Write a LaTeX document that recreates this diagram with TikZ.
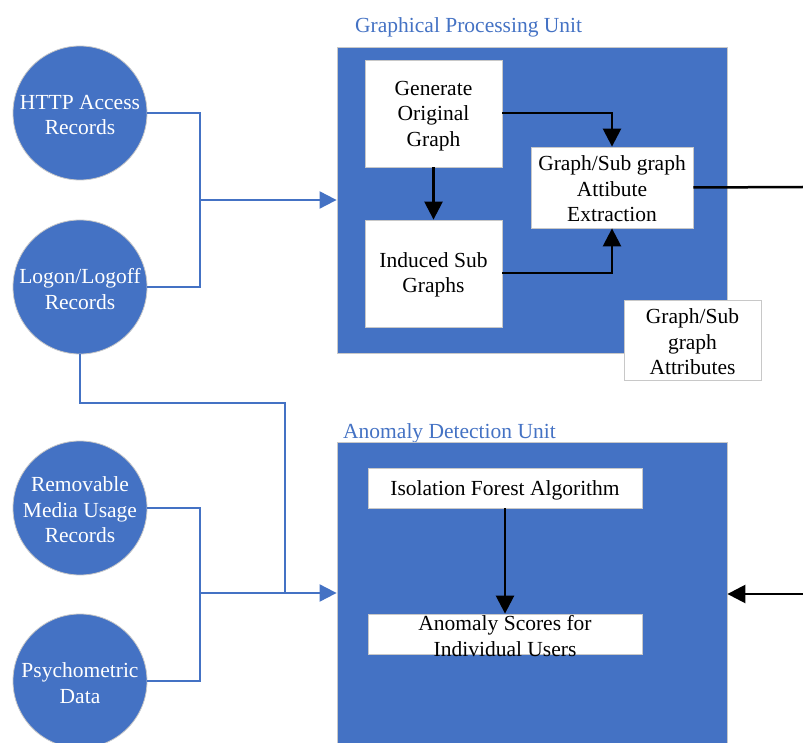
\documentclass[tikz,border=0pt]{standalone}
\usepackage{fontspec}
\setmainfont{Liberation Serif}
\usetikzlibrary{arrows.meta}
\definecolor{unitblue}{HTML}{4472C4}
\definecolor{edgegray}{HTML}{C8C8C8}
\tikzset{
  txt/.style={font=\fontsize{21.5}{25.5}\selectfont, align=center},
  source/.style={circle, fill=unitblue, draw=edgegray, line width=0.8pt,
    minimum size=134pt, inner sep=0pt},
  sourcetext/.style={txt, text=white, inner sep=0pt},
  unit/.style={rectangle, fill=unitblue, draw=edgegray, line width=0.8pt, inner sep=0pt},
  stepbox/.style={rectangle, fill=white, draw=edgegray, line width=0.8pt, inner sep=0pt},
  steptext/.style={txt, inner sep=0pt},
  unittitle/.style={font=\fontsize{21.5}{25.5}\selectfont, text=unitblue, anchor=base west, inner sep=0pt},
  feed/.style={draw=unitblue, line width=2pt},
  feedarrow/.style={feed, -{Triangle[length=17pt,width=17pt]}},
  flow/.style={draw=black, line width=2.5pt},
  flowarrow/.style={flow, -{Triangle[length=18pt,width=18pt]}}
}
\begin{document}
\begin{tikzpicture}[x=1pt,y=-1pt]
\clip (0,0) rectangle (803,743);
\fill[white] (0,0) rectangle (803,743);

% data sources
\node[source] (http) at (80,113) {};
\node[sourcetext] (httpt) at (80,115) {HTTP Access\\Records};
\node[source] (logon) at (80,287) {};
\node[sourcetext] (logont) at (80,289) {Logon/Logoff\\Records};
\node[source] (media) at (80,508) {};
\node[sourcetext] (mediat) at (80,510) {Removable\\Media Usage\\Records};
\node[source] (psych) at (80,681) {};
\node[sourcetext] (psycht) at (80,683) {Psychometric\\Data};

% graphical processing unit
\node[unittitle] (gputitle) at (355,33) {Graphical Processing Unit};
\node[unit, minimum width=390pt, minimum height=306pt] (gpu) at (532,200) {};
\node[stepbox, minimum width=137pt, minimum height=107pt] (gen) at (433.5,113.5) {};
\node[steptext] (gent) at (433.5,116) {Generate\\Original\\Graph};
\node[stepbox, minimum width=137pt, minimum height=107pt] (ind) at (433.5,273.5) {};
\node[steptext] (indt) at (433.5,275) {Induced Sub\\Graphs};
\node[stepbox, minimum width=162pt, minimum height=81pt] (ext) at (612,187.5) {};
\node[steptext] (extt) at (612,189) {Graph/Sub graph\\Attibute\\Extraction};
\node[stepbox, minimum width=137pt, minimum height=80pt] (attr) at (692.5,340) {};
\node[steptext] (attrt) at (692.5,342) {Graph/Sub\\graph\\Attributes};

% anomaly detection unit
\node[unittitle] (adutitle) at (343,438) {Anomaly Detection Unit};
\node[unit, minimum width=390pt, minimum height=330pt] (adu) at (532,607) {};
\node[stepbox, minimum width=274pt, minimum height=40pt] (iso) at (505,488) {};
\node[steptext] (isot) at (505,490) {Isolation Forest Algorithm};
\node[stepbox, minimum width=274pt, minimum height=40pt] (score) at (505,634) {};
\node[steptext] (scoret) at (505,636) {Anomaly Scores for\\Individual Users};

% junctions and free ends
\coordinate (jg) at (200,200);
\coordinate (jl) at (285,593);
\coordinate (ja) at (200,593);
\coordinate (outR) at (803,187);
\coordinate (inR) at (803,594);

% feeds into the units
\draw[feed] (http.east) -| (jg) |- (logon.east);
\draw[feedarrow] (jg) -- (jg -| gpu.west);
\draw[feed] (logon.south) -- ++(0,49) -| (jl);
\draw[feed] (media.east) -| (ja) |- (psych.east);
\draw[feedarrow] (ja) -- (ja -| adu.west);

% processing flow
\draw[flowarrow] (gen.south) -- (ind.north);
\draw[flowarrow] (gen.east |- 0,113) -| (ext.north);
\draw[flowarrow] (ind.east |- 0,273) -| (ext.south);
\draw[flow] (ext.east) -- (outR);
\draw[flowarrow] (inR) -- (inR -| adu.east);
\draw[flowarrow] (iso.south) -- (score.north);
\end{tikzpicture}
\end{document}
